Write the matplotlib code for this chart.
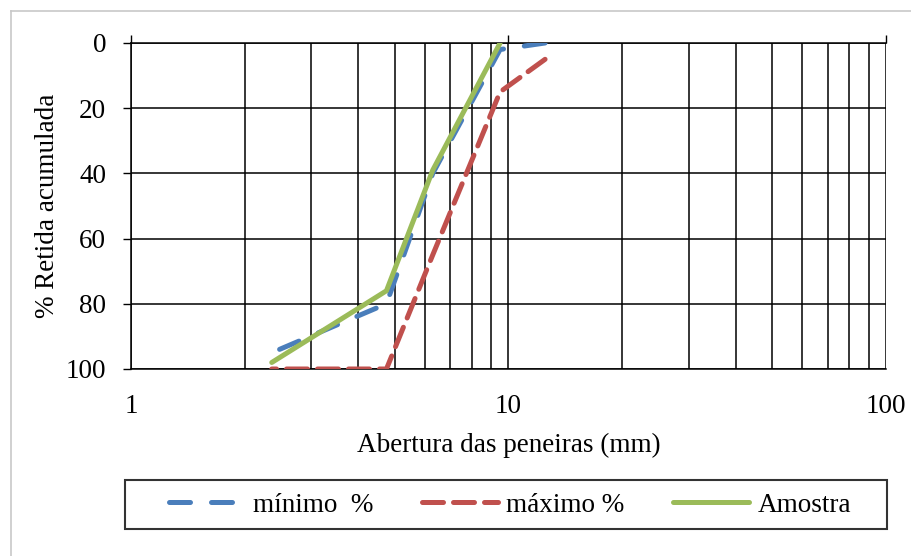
import numpy as np
import matplotlib
matplotlib.use('Agg')
import matplotlib.pyplot as plt
from matplotlib.lines import Line2D
from matplotlib.patches import Rectangle
from matplotlib.ticker import LogLocator, FixedLocator, NullFormatter

# Sieve openings (mm) and cumulative retained (%)
peneiras = [12.5, 9.5, 6.3, 4.75, 2.36]
minimo = [0, 2, 40, 80, 95]
maximo = [5, 15, 65, 100, 100]
amostra_peneiras = [9.5, 6.3, 4.75, 2.36]
amostra = [0, 39, 76, 98]

x_ticks = [1, 10, 100]
x_labels = ['1', '10', '100']
y_ticks = [0, 20, 40, 60, 80, 100]

plt.rcParams['font.family'] = ['Liberation Serif', 'DejaVu Serif']
fs = 19.5

fig = plt.figure(figsize=(9.12, 5.56), dpi=100)
ax = fig.add_axes([131/912, 1 - 369/556, (886 - 131)/912, (369 - 43)/556])

lw = 3.6
ax.plot(peneiras, minimo, color='#4a7ebb', lw=lw, dashes=(4.2, 4.2),
        dash_capstyle='round', label='mínimo  %', zorder=3)
ax.plot(peneiras, maximo, color='#c0504d', lw=lw, dashes=(4.2, 2.0),
        dash_capstyle='round', label='máximo %', zorder=3)
ax.plot(amostra_peneiras, amostra, color='#9bbb59', lw=lw,
        solid_capstyle='round', label='Amostra', zorder=4)

ax.set_xscale('log')
ax.set_xlim(1, 100)
ax.set_ylim(100, 0)
ax.xaxis.set_major_locator(FixedLocator(x_ticks))
ax.set_xticklabels(x_labels)
ax.xaxis.set_minor_locator(LogLocator(base=10, subs=np.arange(2, 10)))
ax.xaxis.set_minor_formatter(NullFormatter())
ax.set_yticks(y_ticks)

ax.grid(True, which='both', axis='x', color='black', lw=1.1)
ax.grid(True, which='major', axis='y', color='black', lw=1.1)
ax.set_axisbelow(True)

ax.tick_params(axis='x', which='major', bottom=False, top=True, labelbottom=True,
               labeltop=False, direction='out', length=6, width=1, pad=12,
               labelsize=fs)
ax.tick_params(axis='x', which='minor', bottom=False, top=False)
ax.tick_params(axis='y', direction='out', length=6, width=1, pad=12, labelsize=fs)
for s in ax.spines.values():
    s.set_color('black')
    s.set_linewidth(1.1)
ax.spines['right'].set_visible(False)

ax.set_xlabel('Abertura das peneiras (mm)', fontsize=fs, labelpad=10)
ax.set_ylabel('% Retida acumulada', fontsize=fs, labelpad=4)

leg = fig.legend(loc='center', ncol=3, bbox_to_anchor=(510/912, 1 - 505/556),
                 fontsize=fs, handlelength=2.8, handletextpad=0.3,
                 columnspacing=1.8, frameon=False)
# legend box
fig.add_artist(Rectangle((125/912, 1 - 529/556), 762/912, 49/556,
                         transform=fig.transFigure, fill=False,
                         edgecolor='#333333', lw=1.5))

# gray border of the cropped page
fig.add_artist(Line2D([11/912, 1], [1 - 11/556, 1 - 11/556], transform=fig.transFigure,
                      color='#c8c8c8', lw=1.2))
fig.add_artist(Line2D([11/912, 11/912], [0, 1 - 11/556], transform=fig.transFigure,
                      color='#c8c8c8', lw=1.2))

fig.savefig('out.png', dpi=100)
